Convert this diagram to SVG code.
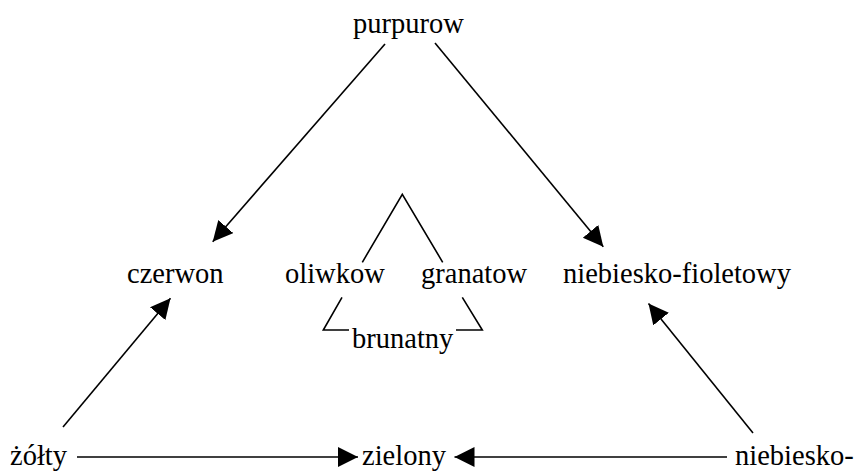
<svg xmlns="http://www.w3.org/2000/svg" width="860" height="473" viewBox="0 0 860 473">
  <style>
    .label { font-family: "Liberation Serif", "Times New Roman", serif; font-size: 28.5px; fill: #000; }
    .edge { stroke: #000; stroke-width: 1.6; fill: none; marker-end: url(#head); }
    .tri { stroke: #000; stroke-width: 1.6; fill: none; }
  </style>
  <defs>
    <marker id="head" markerUnits="userSpaceOnUse" markerWidth="21" markerHeight="21" refX="20" refY="10" orient="auto">
      <path d="M0,0 L20,10 L0,20 Z" fill="#000"/>
    </marker>
  </defs>
  <rect width="860" height="473" fill="#fff"/>

  <!-- connectors -->
  <g id="connectors">
    <line class="edge" x1="385" y1="44" x2="212.7" y2="241.7"/>
    <line class="edge" x1="435" y1="43" x2="603.3" y2="246.7"/>
    <line class="edge" x1="63" y1="427" x2="170.5" y2="298.3"/>
    <line class="edge" x1="753" y1="433" x2="648.5" y2="303.5"/>
    <line class="edge" x1="77" y1="457" x2="358" y2="457"/>
    <line class="edge" x1="727" y1="457" x2="454.5" y2="457"/>
  </g>

  <!-- inner triangle, broken by its three labels -->
  <g id="inner-triangle">
    <polyline class="tri" points="362.3,262.3 402.3,194.3 442.7,262.3"/>
    <polyline class="tri" points="342,297.3 323.3,330 349,330"/>
    <polyline class="tri" points="462.3,297.3 482.3,330 456,330"/>
  </g>

  <g id="node-purpurow"><text class="label" x="353" y="33">purpurow</text></g>
  <g id="node-czerwon"><text class="label" x="127" y="283">czerwon</text></g>
  <g id="node-oliwkow"><text class="label" x="285" y="283">oliwkow</text></g>
  <g id="node-granatow"><text class="label" x="421" y="283">granatow</text></g>
  <g id="node-niebiesko-fioletowy"><text class="label" x="563" y="283">niebiesko-fioletowy</text></g>
  <g id="node-brunatny"><text class="label" x="352" y="348">brunatny</text></g>
  <g id="node-zolty"><text class="label" x="10" y="465">żółty</text></g>
  <g id="node-zielony"><text class="label" x="362" y="465">zielony</text></g>
  <g id="node-niebiesko"><text class="label" x="735" y="465">niebiesko-</text></g>
</svg>
